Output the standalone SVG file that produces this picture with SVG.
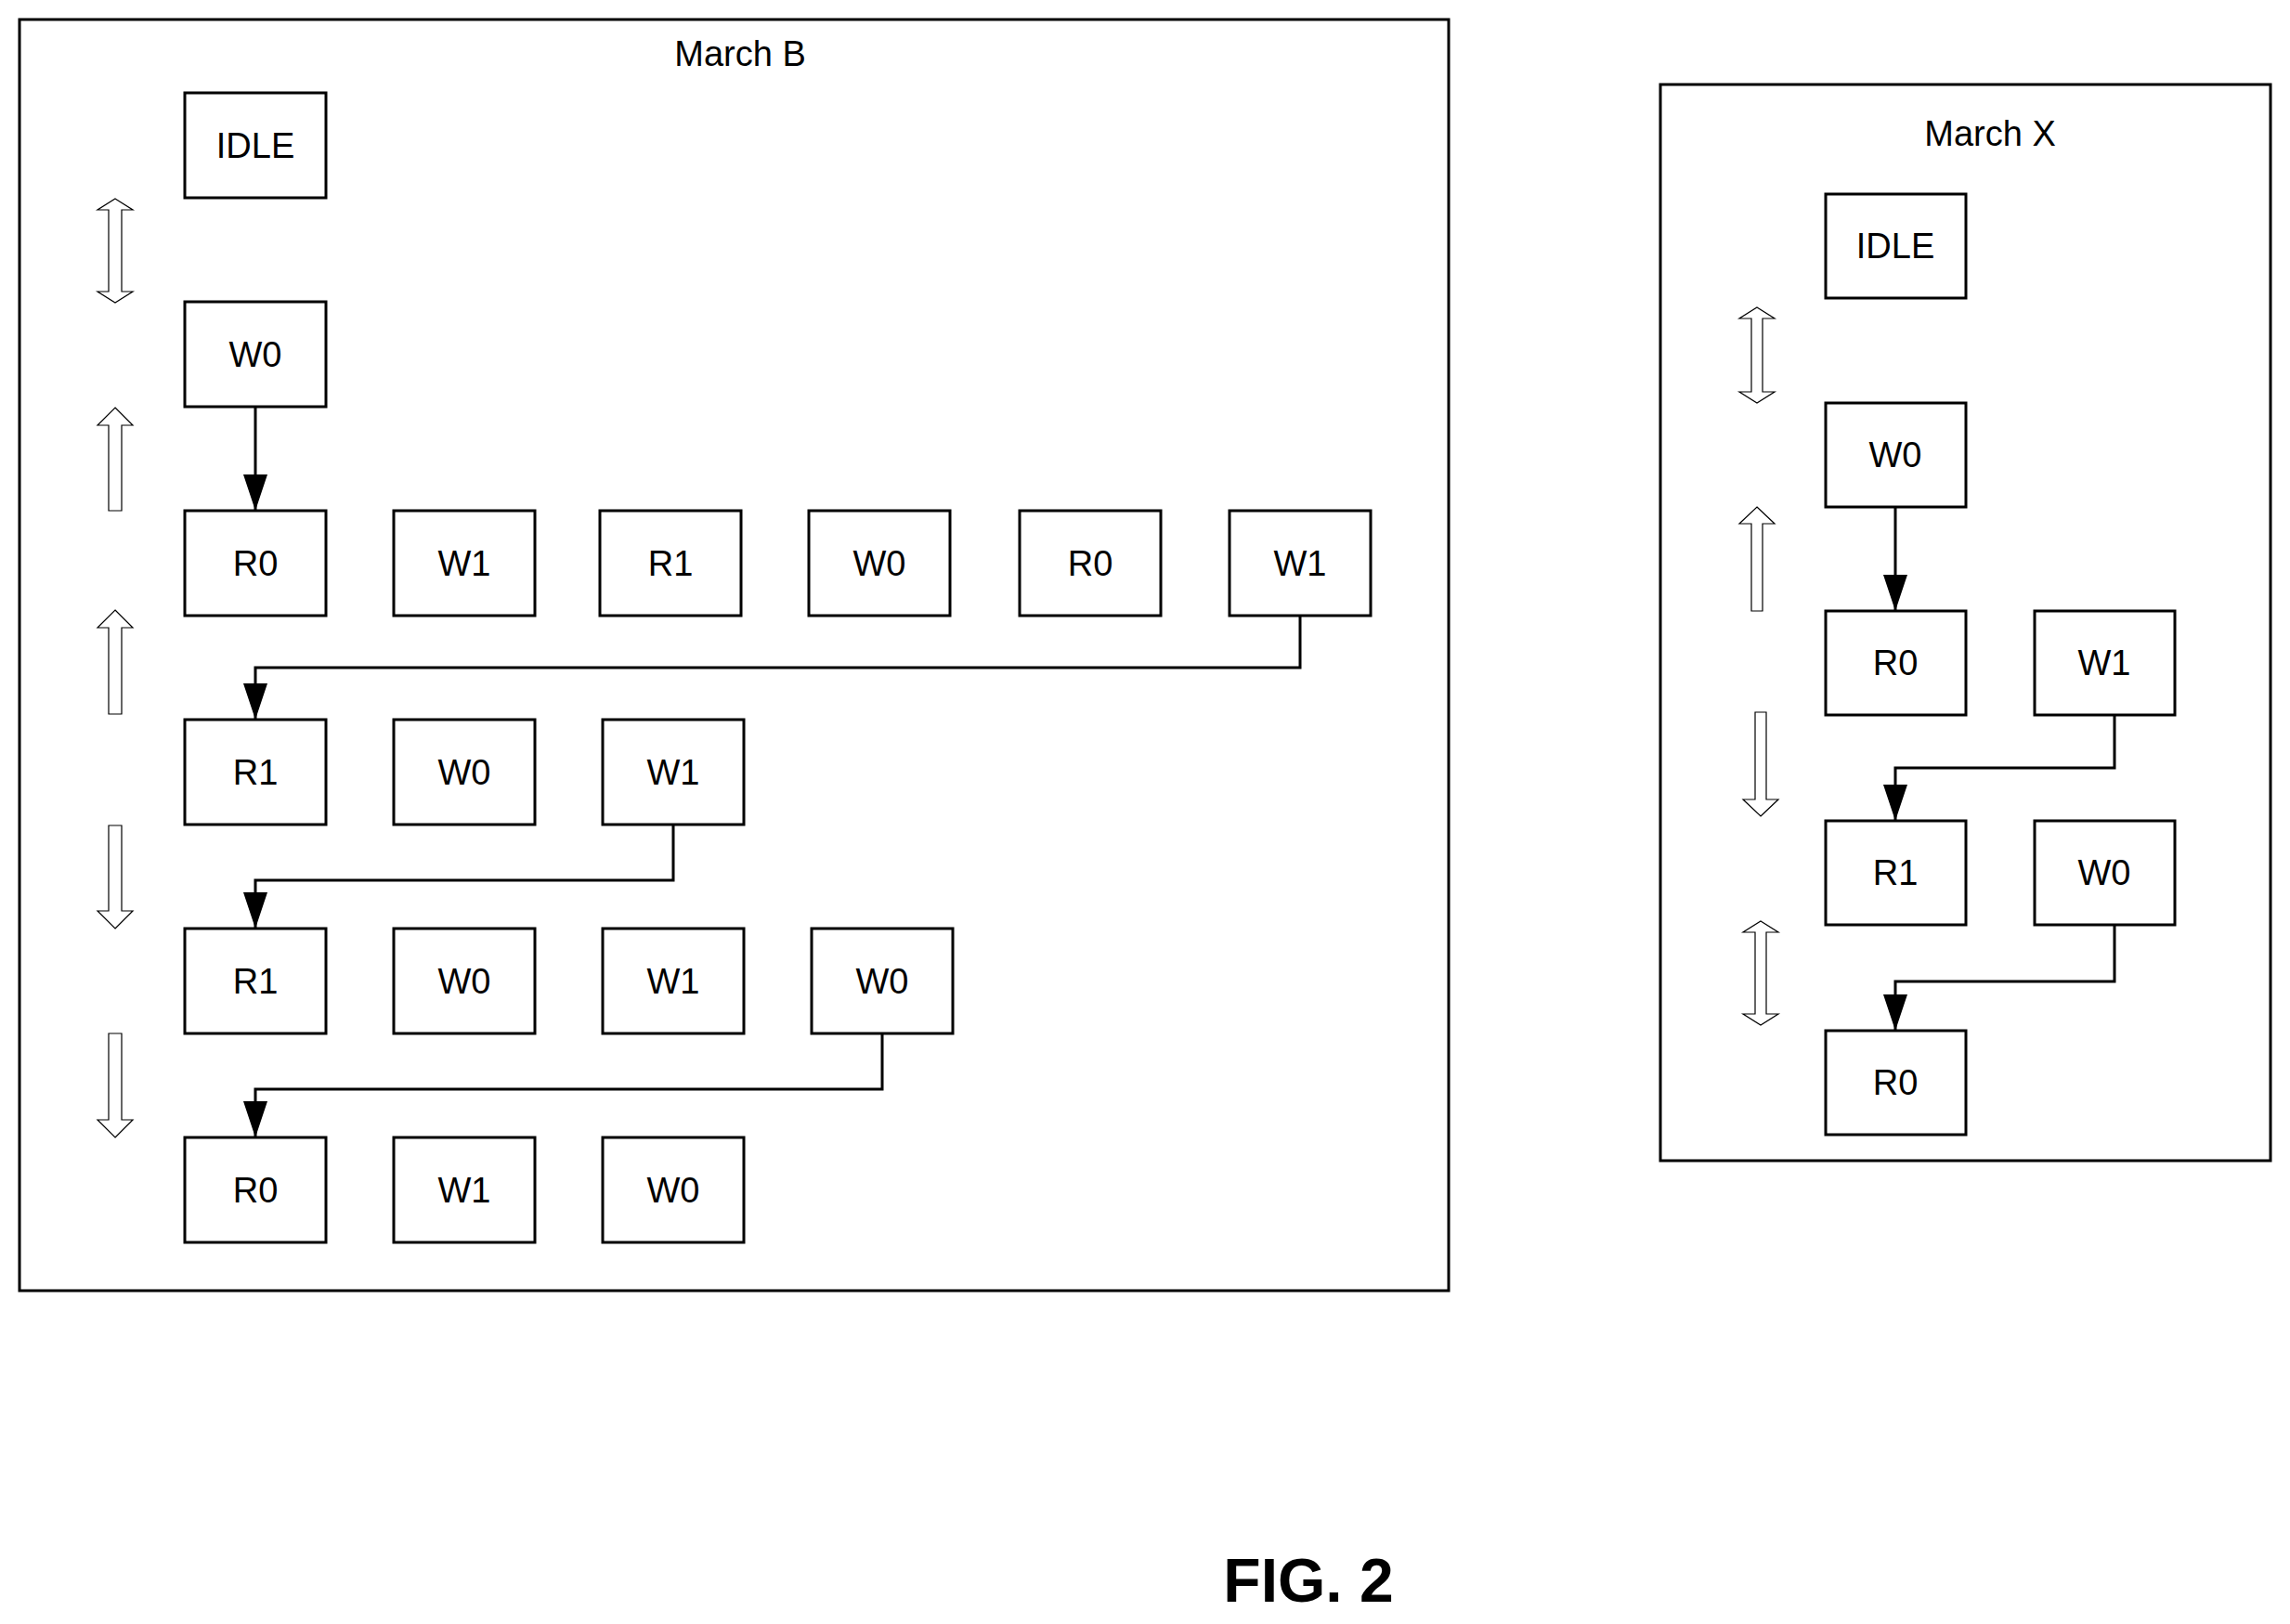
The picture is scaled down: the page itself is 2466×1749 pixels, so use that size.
<svg xmlns="http://www.w3.org/2000/svg" width="2466" height="1749" viewBox="0 0 2466 1749">
<style>
.frame{fill:none;stroke:#000;stroke-width:3}
.box{fill:#fff;stroke:#000;stroke-width:3}
.t{font-family:"Liberation Sans Narrow","Liberation Sans",Arial,sans-serif;font-size:38px;text-anchor:middle;fill:#000}
.ha{fill:#fff;stroke:#000;stroke-width:1.2}
.c{fill:none;stroke:#000;stroke-width:3}
.fig{font-family:"Liberation Sans Narrow","Liberation Sans",Arial,sans-serif;font-size:66px;font-weight:bold;text-anchor:middle;fill:#000}
</style>
<defs>
<marker id="a" markerUnits="userSpaceOnUse" markerWidth="40" markerHeight="28" refX="39" refY="13" orient="auto" viewBox="0 0 40 26">
<path d="M0,0 L39,13 L0,26 Z" fill="#000"/>
</marker>
</defs>
<rect width="2466" height="1749" fill="#fff"/>
<g id="marchB">
<rect class="frame" x="21" y="21" width="1539" height="1369"/>
<text class="t" x="797" y="71">March B</text>
</g>
<g id="marchX">
<rect class="frame" x="1788" y="91" width="657" height="1159"/>
<text class="t" x="2143" y="157">March X</text>
</g>
<g id="nodesB">
<g id="b-idle"><rect class="box" x="199" y="100" width="152" height="113"/><text class="t" x="275" y="170">IDLE</text></g>
<g id="b-w0"><rect class="box" x="199" y="325" width="152" height="113"/><text class="t" x="275" y="395">W0</text></g>
<g id="b-r0a"><rect class="box" x="199" y="550" width="152" height="113"/><text class="t" x="275" y="620">R0</text></g>
<g id="b-w1a"><rect class="box" x="424" y="550" width="152" height="113"/><text class="t" x="500" y="620">W1</text></g>
<g id="b-r1a"><rect class="box" x="646" y="550" width="152" height="113"/><text class="t" x="722" y="620">R1</text></g>
<g id="b-w0a"><rect class="box" x="871" y="550" width="152" height="113"/><text class="t" x="947" y="620">W0</text></g>
<g id="b-r0b"><rect class="box" x="1098" y="550" width="152" height="113"/><text class="t" x="1174" y="620">R0</text></g>
<g id="b-w1b"><rect class="box" x="1324" y="550" width="152" height="113"/><text class="t" x="1400" y="620">W1</text></g>
<g id="b-r1b"><rect class="box" x="199" y="775" width="152" height="113"/><text class="t" x="275" y="845">R1</text></g>
<g id="b-w0b"><rect class="box" x="424" y="775" width="152" height="113"/><text class="t" x="500" y="845">W0</text></g>
<g id="b-w1c"><rect class="box" x="649" y="775" width="152" height="113"/><text class="t" x="725" y="845">W1</text></g>
<g id="b-r1c"><rect class="box" x="199" y="1000" width="152" height="113"/><text class="t" x="275" y="1070">R1</text></g>
<g id="b-w0c"><rect class="box" x="424" y="1000" width="152" height="113"/><text class="t" x="500" y="1070">W0</text></g>
<g id="b-w1d"><rect class="box" x="649" y="1000" width="152" height="113"/><text class="t" x="725" y="1070">W1</text></g>
<g id="b-w0d"><rect class="box" x="874" y="1000" width="152" height="113"/><text class="t" x="950" y="1070">W0</text></g>
<g id="b-r0c"><rect class="box" x="199" y="1225" width="152" height="113"/><text class="t" x="275" y="1295">R0</text></g>
<g id="b-w1e"><rect class="box" x="424" y="1225" width="152" height="113"/><text class="t" x="500" y="1295">W1</text></g>
<g id="b-w0e"><rect class="box" x="649" y="1225" width="152" height="113"/><text class="t" x="725" y="1295">W0</text></g>
</g>
<g id="nodesX">
<g id="x-idle"><rect class="box" x="1966" y="209" width="151" height="112"/><text class="t" x="2041" y="278">IDLE</text></g>
<g id="x-w0"><rect class="box" x="1966" y="434" width="151" height="112"/><text class="t" x="2041" y="503">W0</text></g>
<g id="x-r0"><rect class="box" x="1966" y="658" width="151" height="112"/><text class="t" x="2041" y="727">R0</text></g>
<g id="x-w1"><rect class="box" x="2191" y="658" width="151" height="112"/><text class="t" x="2266" y="727">W1</text></g>
<g id="x-r1"><rect class="box" x="1966" y="884" width="151" height="112"/><text class="t" x="2041" y="953">R1</text></g>
<g id="x-w0b"><rect class="box" x="2191" y="884" width="151" height="112"/><text class="t" x="2266" y="953">W0</text></g>
<g id="x-r0b"><rect class="box" x="1966" y="1110" width="151" height="112"/><text class="t" x="2041" y="1179">R0</text></g>
</g>
<g id="direction-arrows">
<polygon class="ha" points="124,214 143,226 131,226 131,314 143,314 124,326 105,314 117,314 117,226 105,226"/>
<polygon class="ha" points="124,439 143,458 131,458 131,550 117,550 117,458 105,458"/>
<polygon class="ha" points="124,657 143,676 131,676 131,769 117,769 117,676 105,676"/>
<polygon class="ha" points="124,1000 143,981 131,981 131,889 117,889 117,981 105,981"/>
<polygon class="ha" points="124,1225 143,1206 131,1206 131,1113 117,1113 117,1206 105,1206"/>
<polygon class="ha" points="1892,331 1911,343 1898,343 1898,422 1911,422 1892,434 1873,422 1886,422 1886,343 1873,343"/>
<polygon class="ha" points="1892,546 1911,564 1898,564 1898,658 1886,658 1886,564 1873,564"/>
<polygon class="ha" points="1896,879 1915,861 1902,861 1902,767 1890,767 1890,861 1877,861"/>
<polygon class="ha" points="1896,992 1915,1004 1902,1004 1902,1092 1915,1092 1896,1104 1877,1092 1890,1092 1890,1004 1877,1004"/>
</g>
<g id="connectors">
<polyline class="c" marker-end="url(#a)" points="275,438 275,550"/>
<polyline class="c" marker-end="url(#a)" points="1400,663 1400,719 275,719 275,775"/>
<polyline class="c" marker-end="url(#a)" points="725,888 725,948 275,948 275,1000"/>
<polyline class="c" marker-end="url(#a)" points="950,1113 950,1173 275,1173 275,1225"/>
<polyline class="c" marker-end="url(#a)" points="2041,546 2041,658"/>
<polyline class="c" marker-end="url(#a)" points="2277,770 2277,827 2041,827 2041,884"/>
<polyline class="c" marker-end="url(#a)" points="2277,996 2277,1057 2041,1057 2041,1110"/>
</g>
<text class="fig" x="1409" y="1725">FIG. 2</text>
</svg>
